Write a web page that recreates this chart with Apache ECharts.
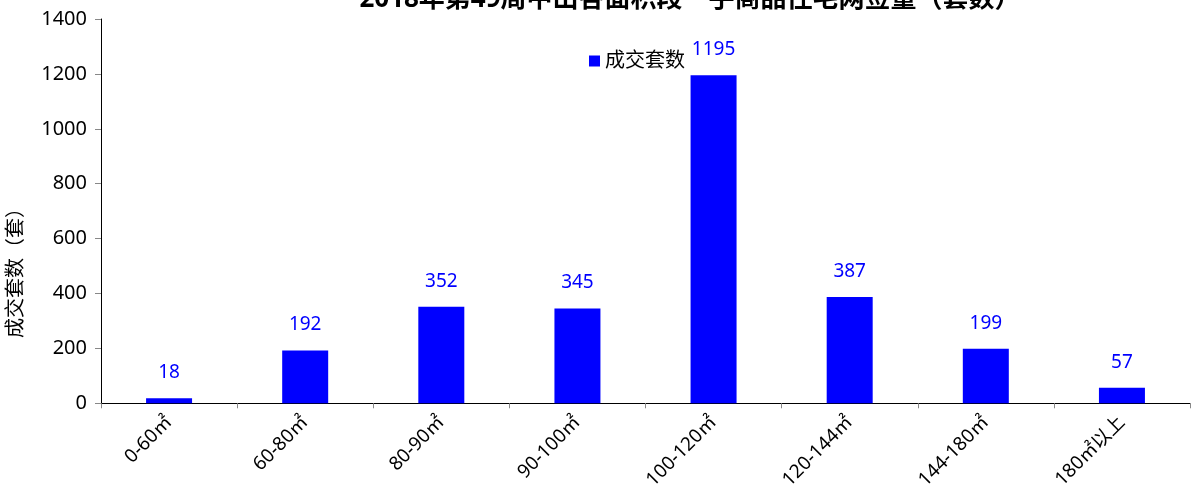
<!DOCTYPE html>
<html><head><meta charset="utf-8">
<script src="https://cdn.jsdelivr.net/npm/echarts@6/dist/echarts.min.js"></script>
<style>html,body{margin:0;padding:0;background:#fff}#c{width:1191px;height:492px}</style>
</head><body><div id="c"></div>
<script>
const categories = ['0-60㎡','60-80㎡','80-90㎡','90-100㎡','100-120㎡','120-144㎡','144-180㎡','180㎡以上'];
const values = [18,192,352,345,1195,387,199,57];
const seriesName = '成交套数';
const titleText = '2018年第49周中山各面积段一手商品住宅网签量（套数）';
const yName = '成交套数（套）';
const FONT = '"Noto Sans", "Noto Sans CJK SC", sans-serif';
const chart = echarts.init(document.getElementById('c'), null, {renderer:'canvas'});
chart.setOption({
  animation:false,
  textStyle:{fontFamily:FONT},
  title:{text:titleText,left:685,textAlign:'center',top:-18,
    textStyle:{fontSize:26,fontWeight:'bold',color:'#000',fontFamily:FONT}},
  legend:{data:[seriesName],left:584,top:46,itemWidth:11,itemHeight:11,itemGap:4,
    icon:'rect',textStyle:{fontSize:20,color:'#000',fontFamily:FONT}},
  grid:{left:101,right:1,top:19,bottom:86,containLabel:false},
  graphic:[{type:'text',left:6,top:198,rotation:Math.PI/2,
    style:{text:yName,fill:'#000',font:'20px ' + FONT}}],
  xAxis:{type:'category',data:categories,
    axisLine:{lineStyle:{color:'#000',width:1}},
    axisTick:{show:true,length:5,lineStyle:{color:'#888'}},
    axisLabel:{rotate:45,fontSize:19,color:'#000',margin:16,interval:0,fontFamily:FONT}},
  yAxis:{type:'value',min:0,max:1400,interval:200,
    axisLine:{show:true,lineStyle:{color:'#000',width:1}},
    axisTick:{show:true,length:6,lineStyle:{color:'#888'}},
    splitLine:{show:false},
    axisLabel:{fontSize:20,color:'#000',margin:14,fontFamily:FONT,formatter:v=>String(v)}},
  series:[{name:seriesName,type:'bar',data:values,barWidth:46,
    itemStyle:{color:'#0000FF'},
    label:{show:true,position:'top',distance:16,fontSize:19,color:'#0000FF',fontFamily:FONT}}]
});
</script></body></html>
